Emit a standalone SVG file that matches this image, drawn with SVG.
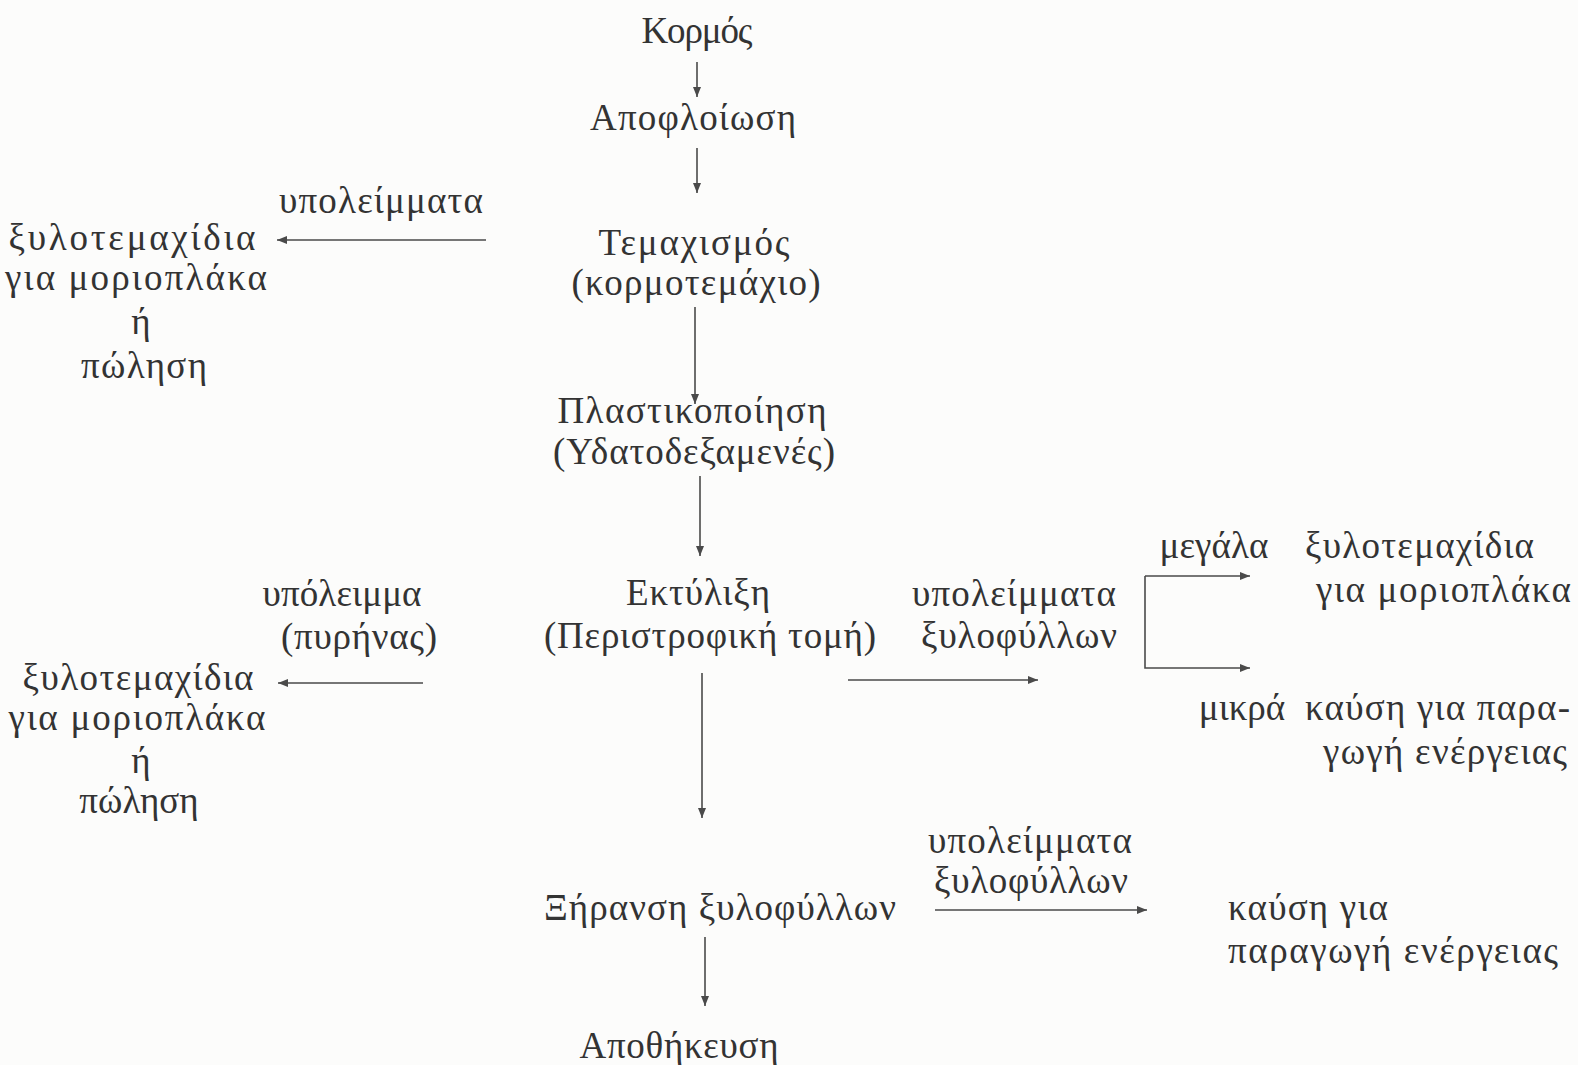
<svg xmlns="http://www.w3.org/2000/svg" width="1578" height="1065" viewBox="0 0 1578 1065">
<defs>
<style>
text{font-family:"Liberation Serif","DejaVu Serif",serif;font-size:37px;fill:#333}
.m{text-anchor:middle}
.c{stroke:#4a4a4a;stroke-width:1.6;fill:none}
</style>
<marker id="ah" viewBox="0 0 10 8" refX="10" refY="4" markerWidth="10" markerHeight="8" markerUnits="userSpaceOnUse" orient="auto">
<path d="M0,0 L10,4 L0,8 z" fill="#4a4a4a"/>
</marker>
</defs>
<rect width="1578" height="1065" fill="#fcfcfb"/>
<g id="connectors">
<line class="c" x1="697" y1="62" x2="697" y2="97" marker-end="url(#ah)"/>
<line class="c" x1="697" y1="148" x2="697" y2="193" marker-end="url(#ah)"/>
<line class="c" x1="695" y1="307" x2="695" y2="404" marker-end="url(#ah)"/>
<line class="c" x1="700" y1="476" x2="700" y2="556" marker-end="url(#ah)"/>
<line class="c" x1="702" y1="673" x2="702" y2="818" marker-end="url(#ah)"/>
<line class="c" x1="705" y1="937" x2="705" y2="1006" marker-end="url(#ah)"/>
<line class="c" x1="486" y1="240" x2="277" y2="240" marker-end="url(#ah)"/>
<line class="c" x1="423" y1="683" x2="278" y2="683" marker-end="url(#ah)"/>
<line class="c" x1="848" y1="680" x2="1038" y2="680" marker-end="url(#ah)"/>
<polyline class="c" points="1145,576 1145,668 1250,668" marker-end="url(#ah)"/>
<line class="c" x1="1145" y1="576" x2="1250" y2="576" marker-end="url(#ah)"/>
<line class="c" x1="935" y1="910" x2="1147" y2="910" marker-end="url(#ah)"/>
</g>
<g id="kormos"><text class="m" x="697" y="43" textLength="111">Κορμός</text></g>
<g id="apofloiosi"><text class="m" x="693" y="130" textLength="206">Αποφλοίωση</text></g>
<g id="temaxismos"><text class="m" x="694" y="255" textLength="191">Τεμαχισμός</text><text class="m" x="696" y="295" textLength="249">(κορμοτεμάχιο)</text></g>
<g id="plastikopoiisi"><text class="m" x="692" y="423" textLength="269">Πλαστικοποίηση</text><text class="m" x="694" y="464" textLength="282">(Υδατοδεξαμενές)</text></g>
<g id="ektylixi"><text class="m" x="698" y="605" textLength="144">Εκτύλιξη</text><text class="m" x="710" y="648" textLength="332">(Περιστροφική τομή)</text></g>
<g id="xiransi"><text class="m" x="720" y="920" textLength="352">Ξήρανση ξυλοφύλλων</text></g>
<g id="apothikeusi"><text class="m" x="679" y="1058" textLength="199">Αποθήκευση</text></g>
<g id="label-ypoleimmata-1"><text class="m" x="381" y="213" textLength="204">υπολείμματα</text></g>
<g id="left-top"><text class="m" x="132" y="250" textLength="247">ξυλοτεμαχίδια</text><text class="m" x="136" y="290" textLength="262">για μοριοπλάκα</text><text class="m" x="141" y="334">ή</text><text class="m" x="144" y="378" textLength="126">πώληση</text></g>
<g id="label-ypoleimma"><text class="m" x="342" y="606" textLength="159">υπόλειμμα</text><text class="m" x="359" y="649" textLength="156">(πυρήνας)</text></g>
<g id="left-mid"><text class="m" x="138" y="690" textLength="231">ξυλοτεμαχίδια</text><text class="m" x="137" y="730" textLength="257">για μοριοπλάκα</text><text class="m" x="141" y="773">ή</text><text class="m" x="139" y="813">πώληση</text></g>
<g id="label-ypoleimmata-2"><text class="m" x="1014" y="606" textLength="204">υπολείμματα</text><text class="m" x="1019" y="648" textLength="196">ξυλοφύλλων</text></g>
<g id="label-megala"><text class="m" x="1214" y="558" textLength="109">μεγάλα</text></g>
<g id="right-top"><text x="1305" y="558" textLength="229">ξυλοτεμαχίδια</text><text x="1316" y="602" textLength="255">για μοριοπλάκα</text></g>
<g id="label-mikra"><text class="m" x="1242" y="720">μικρά</text></g>
<g id="right-mid"><text x="1305" y="720" textLength="265">καύση για παρα-</text><text x="1323" y="764" textLength="244">γωγή ενέργειας</text></g>
<g id="label-ypoleimmata-3"><text class="m" x="1030" y="853" textLength="204">υπολείμματα</text><text class="m" x="1031" y="893" textLength="194">ξυλοφύλλων</text></g>
<g id="right-bottom"><text x="1228" y="920" textLength="160">καύση για</text><text x="1228" y="963" textLength="330">παραγωγή ενέργειας</text></g>
</svg>
